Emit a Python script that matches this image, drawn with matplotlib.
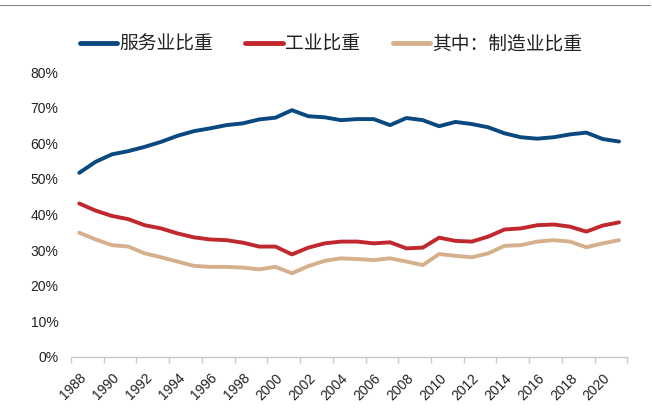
import matplotlib
matplotlib.use("Agg")
import matplotlib.pyplot as plt
from matplotlib.lines import Line2D

plt.rcParams['font.family'] = ['Liberation Sans', 'Noto Sans CJK SC', 'DejaVu Sans']

years = list(range(1988, 2022))
services = [51.7, 54.8, 56.9, 57.8, 59.0, 60.4, 62.1, 63.4, 64.2, 65.1, 65.6, 66.7, 67.2, 69.3,
            67.6, 67.3, 66.5, 66.8, 66.8, 65.1, 67.1, 66.5, 64.8, 66.0, 65.4, 64.5, 62.8, 61.7,
            61.3, 61.7, 62.5, 63.0, 61.2, 60.5]
industry = [43.1, 41.1, 39.6, 38.7, 37.0, 36.1, 34.7, 33.6, 33.0, 32.8, 32.1, 31.0, 31.0, 28.8,
            30.7, 31.9, 32.4, 32.4, 31.9, 32.2, 30.5, 30.7, 33.5, 32.6, 32.4, 33.8, 35.8, 36.1,
            37.0, 37.2, 36.6, 35.2, 36.9, 37.8]
manufacturing = [34.9, 33.0, 31.4, 31.0, 29.1, 28.0, 26.8, 25.6, 25.3, 25.3, 25.1, 24.6, 25.3, 23.5,
                 25.5, 27.0, 27.7, 27.5, 27.2, 27.7, 26.8, 25.8, 28.9, 28.4, 28.0, 29.1, 31.2, 31.4,
                 32.4, 32.8, 32.4, 30.8, 31.9, 32.8]
series_names = ['服务业比重', '工业比重', '其中：制造业比重']
colors = ['#0A4880', '#C0282D', '#D6B08D']
yticks = [0, 10, 20, 30, 40, 50, 60, 70, 80]

fig = plt.figure(figsize=(6.52, 4.19), dpi=100)
ax = fig.add_axes([0.109, 0.148, 0.853, 0.680])

x = list(range(len(years)))
for vals, c in zip([services, industry, manufacturing], colors):
    ax.plot(x, vals, color=c, lw=2.8, solid_joinstyle='round', solid_capstyle='round')

ax.set_xlim(-0.5, len(years) - 0.5)
ax.set_ylim(0, 80)
ax.set_yticks(yticks)
ax.set_yticklabels([f'{v}%' for v in yticks], fontsize=10, color='#222222')
ax.tick_params(axis='y', length=0, pad=9)

ax.set_xticks([i - 0.5 for i in range(0, len(years) + 1, 2)])
ax.set_xticklabels([])
ax.set_xticks(list(range(0, len(years), 2)), minor=True)
ax.set_xticklabels([str(years[i]) for i in range(0, len(years), 2)], minor=True,
                   rotation=45, ha='right', va='top', rotation_mode='anchor', fontsize=10, color='#222222')
ax.tick_params(axis='x', which='major', length=4, color='#C8C8C8', width=1)
ax.tick_params(axis='x', which='minor', length=0, pad=10)

for s in ['top', 'right', 'left']:
    ax.spines[s].set_visible(False)
ax.spines['bottom'].set_color('#C8C8C8')
ax.spines['bottom'].set_linewidth(1)

handles = [Line2D([0], [0], color=c, lw=3.5, solid_capstyle='round') for c in colors]
fig.legend(handles, series_names, loc='center left', bbox_to_anchor=(0.122, 0.895), ncol=3,
           frameon=False, prop={'family': ['Noto Sans CJK SC', 'DejaVu Sans'], 'size': 13.5},
           labelcolor='#222222',
           handlelength=2.0, handletextpad=0.1, columnspacing=1.75, borderaxespad=0, borderpad=0)

fig.add_artist(Line2D([0, 0.997], [0.988, 0.988], transform=fig.transFigure, color='#888888', lw=0.8))

fig.savefig('out.png', dpi=100)
